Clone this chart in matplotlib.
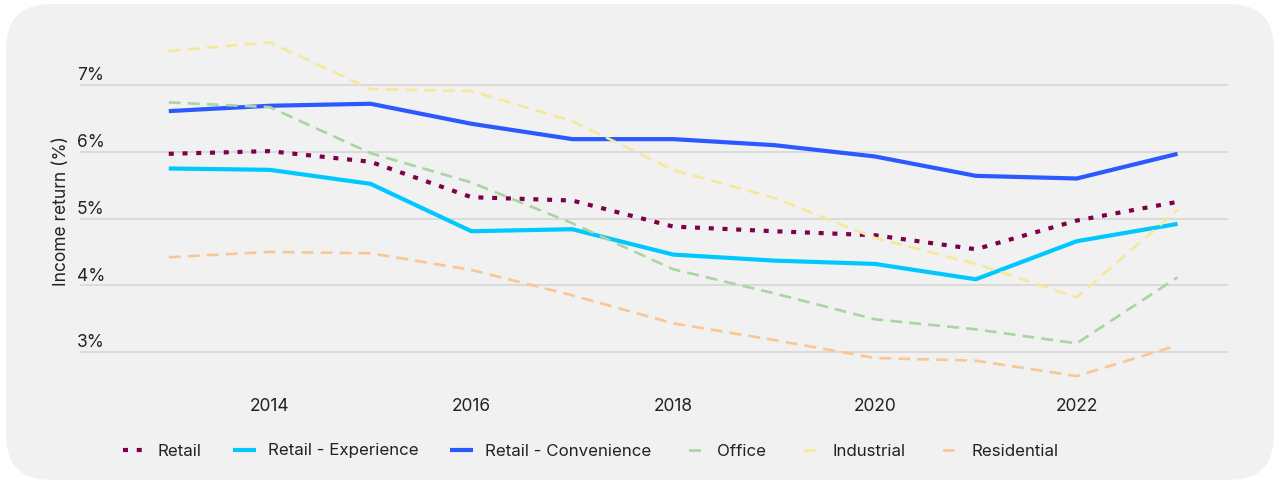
import matplotlib
matplotlib.use("Agg")
import matplotlib.pyplot as plt
from matplotlib.patches import FancyBboxPatch
from matplotlib.lines import Line2D
import matplotlib.transforms as mtransforms

plt.rcParams["font.family"] = ["Inter", "DejaVu Sans"]

years = [2013, 2014, 2015, 2016, 2017, 2018, 2019, 2020, 2021, 2022, 2023]

retail = [5.97, 6.01, 5.85, 5.32, 5.27, 4.88, 4.81, 4.75, 4.54, 4.97, 5.25]
retail_experience = [5.75, 5.73, 5.52, 4.81, 4.84, 4.46, 4.37, 4.32, 4.09, 4.66, 4.92]
retail_convenience = [6.61, 6.69, 6.72, 6.42, 6.19, 6.19, 6.10, 5.93, 5.64, 5.60, 5.97]
office = [6.74, 6.67, 5.98, 5.54, 4.93, 4.24, 3.88, 3.49, 3.34, 3.13, 4.12]
industrial = [7.51, 7.64, 6.94, 6.91, 6.46, 5.73, 5.31, 4.71, 4.32, 3.82, 5.13]
residential = [4.42, 4.50, 4.48, 4.23, 3.85, 3.43, 3.18, 2.91, 2.87, 2.64, 3.10]

y_ticks = [3, 4, 5, 6, 7]
x_ticks = [2014, 2016, 2018, 2020, 2022]

DOTTED = (0, (1.2, 2.1))
DASHED = (0, (4.5, 2.7))
# legend keys show a single centred dash
DASHED_KEY = (0, (0.001, 2.1, 4.5, 20))

fig = plt.figure(figsize=(12.8, 4.84), dpi=100)
fig.patch.set_facecolor("white")

# rounded grey card behind everything
card = FancyBboxPatch((6 / 1280, 4 / 484), 1268 / 1280, 476 / 484,
                      boxstyle="round,pad=0,rounding_size=0.035",
                      transform=fig.transFigure, facecolor="#f1f1f1",
                      edgecolor="none", zorder=-10, mutation_aspect=1280 / 484)
fig.patches.append(card)

ax = fig.add_axes([80 / 1280, 1 - 385 / 484, 1148 / 1280, 360 / 484])
ax.set_facecolor("none")

series = [
    ("Retail", retail, "#7d0048", DOTTED, DOTTED, 3.0),
    ("Retail - Experience", retail_experience, "#00c8ff", "-", "-", 3.0),
    ("Retail - Convenience", retail_convenience, "#2b59ff", "-", "-", 3.0),
    ("Office", office, "#a9d5a2", DASHED, DASHED_KEY, 1.9),
    ("Industrial", industrial, "#f6e89b", DASHED, DASHED_KEY, 1.9),
    ("Residential", residential, "#f8c795", DASHED, DASHED_KEY, 1.9),
]

# draw light dashed lines first so solid ones sit on top
order = [5, 4, 3, 1, 0, 2]
for i in order:
    name, vals, color, ls, _, lw = series[i]
    ax.plot(years, vals, color=color, linestyle=ls, linewidth=lw,
            solid_capstyle="butt", dash_capstyle="butt", zorder=3 + i)

ax.set_xlim(2012.12, 2023.5)
ax.set_ylim(2.506, 7.9)
ax.set_xticks(x_ticks)
ax.set_xticklabels([str(x) for x in x_ticks], fontsize=12.5, color="#222222")
ax.set_yticks(y_ticks)
ax.set_yticklabels([])
ax.tick_params(axis="both", length=0)
ax.tick_params(axis="x", pad=9.5)
ax.grid(axis="y", color="#d6d6d6", linewidth=1.2)
ax.set_axisbelow(True)
for s in ax.spines.values():
    s.set_visible(False)

# y labels sit just above their gridline
trans = mtransforms.blended_transform_factory(ax.transAxes, ax.transData)
for v in y_ticks:
    ax.text(-0.0026, v + 0.01, f"{v}%", transform=trans, ha="left", va="bottom",
            fontsize=12.5, color="#222222")

fig.text(62 / 1280, 1 - 211 / 484, "Income return (%)", rotation=90,
         ha="center", va="center", fontsize=12.5, color="#222222")

handles = [Line2D([], [], color=c, linestyle=key, linewidth=lw,
                  dash_capstyle="butt", solid_capstyle="butt")
           for _, _, c, _, key, lw in series]
labels = [s[0] for s in series]
fig.legend(handles, labels, loc="center", bbox_to_anchor=(591 / 1280, 1 - 451 / 484),
           ncol=6, frameon=False, fontsize=12.2, handlelength=1.36,
           handletextpad=0.7, columnspacing=1.85, labelcolor="#222222")

fig.savefig("out.png", dpi=100, facecolor=fig.get_facecolor())
